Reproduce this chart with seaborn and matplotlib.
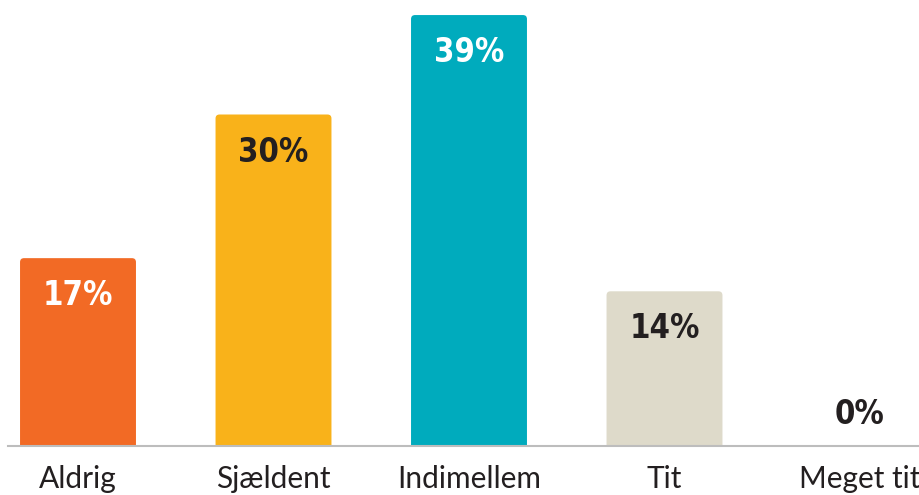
import pandas as pd
import seaborn as sns
import matplotlib.pyplot as plt
from matplotlib.patches import FancyBboxPatch

# Data
categories = ['Aldrig', 'Sjældent', 'Indimellem', 'Tit', 'Meget tit']
values = [17, 30, 39, 14, 0]
bar_colors = ['#F26A25', '#F9B21A', '#00ABBD', '#DEDACA', '#DEDACA']
label_colors = ['white', '#231F20', 'white', '#231F20', '#231F20']

df = pd.DataFrame({'answer': categories, 'pct': values})

sns.set_style('white')
fig = plt.figure(figsize=(9.2, 4.95), dpi=100)
ax = fig.add_axes([8 / 920, 49 / 495, 912 / 920, 446 / 495])

sns.barplot(data=df, x='answer', y='pct', hue='answer',
            palette=bar_colors, legend=False, width=0.593,
            saturation=1, ax=ax)

ax.set_xlim(-70 / 195.5, 842 / 195.5)
ax.set_ylim(0, 446 / 11.05)

# swap the plain rectangles for ones with slightly rounded top corners
px_x, px_y = 195.5, 11.05   # pixels per data unit
r = 4 / px_x
for p in list(ax.patches):
    x, y, w, h = p.get_x(), p.get_y(), p.get_width(), p.get_height()
    if h <= 0:
        p.remove()
        continue
    rb = FancyBboxPatch((x, y - 1), w, h + 1,
                        boxstyle=f'round,pad=0,rounding_size={r}',
                        mutation_aspect=px_x / px_y,
                        facecolor=p.get_facecolor(), edgecolor='none')
    p.remove()
    ax.add_patch(rb)

# value labels inside the bars (zero bar gets its label above the baseline)
for i, (v, c) in enumerate(zip(values, label_colors)):
    dy = -27 if v > 0 else 23
    ax.annotate(f'{v}%', xy=(i, v), xytext=(0, dy), textcoords='offset points',
                ha='center', va='center', color=c, fontsize=23.5,
                family='DejaVu Sans', fontstretch='condensed', fontweight='bold')

sns.despine(ax=ax, left=True, top=True, right=True)
ax.spines['bottom'].set_color('#BDBDBD')
ax.spines['bottom'].set_linewidth(1.5)
ax.spines['bottom'].set_zorder(5)
ax.set_yticks([])
ax.set_xlabel('')
ax.set_ylabel('')
ax.tick_params(axis='x', length=0, pad=14, labelsize=21.5, labelcolor='#231F20')
for t in ax.get_xticklabels():
    t.set_family('Lato')

fig.savefig('out.png', dpi=100)
